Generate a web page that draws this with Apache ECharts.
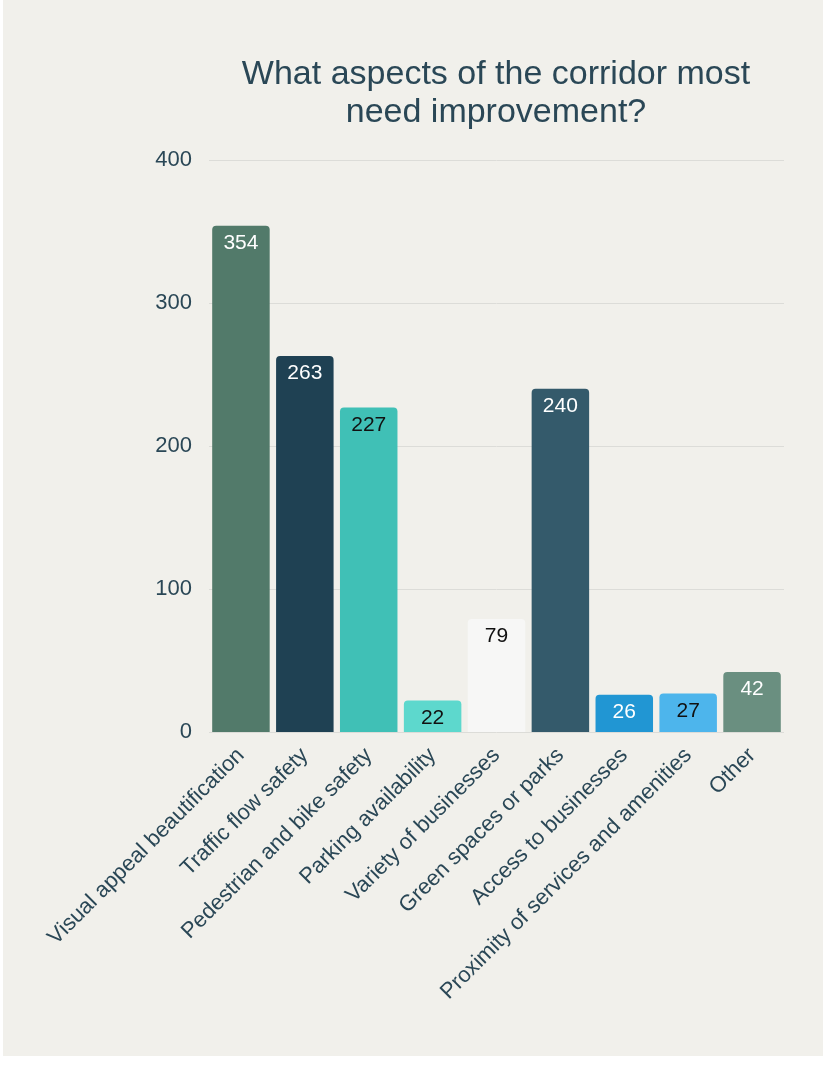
<!DOCTYPE html>
<html>
<head>
<meta charset="utf-8">
<script src="https://cdn.jsdelivr.net/npm/echarts@6/dist/echarts.min.js"></script>
<style>
  html, body { margin: 0; padding: 0; background: #ffffff; }
  #chart { position: absolute; left: 3px; top: 0; width: 820px; height: 1056px; background: #f1f0eb; }
</style>
</head>
<body>
<div id="chart"></div>
<script>
// categories and answers count
const categories = [
  "Visual appeal beautification",
  "Traffic flow safety",
  "Pedestrian and bike safety",
  "Parking availability",
  "Variety of businesses",
  "Green spaces or parks",
  "Access to businesses",
  "Proximity of services and amenities",
  "Other"
];
const counts = [354, 263, 227, 22, 79, 240, 26, 27, 42];
const barColors = ["#527a6a", "#1f4153", "#40c0b6", "#5dd8cd", "#f7f7f6", "#345a6b", "#2196d3", "#4db5ec", "#6a8f80"];
const labelColors = ["#ffffff", "#ffffff", "#111111", "#111111", "#111111", "#ffffff", "#ffffff", "#111111", "#ffffff"];

const textColor = "#2a4756";

let myChart = echarts.init(document.getElementById("chart"));

myChart.setOption({
  title: {
    text: "What aspects of the corridor most\nneed improvement?",
    left: 488,
    top: 51,
    textAlign: "center",
    textStyle: {
      fontFamily: "Liberation Sans",
      fontWeight: "normal",
      fontSize: 34,
      lineHeight: 38,
      color: textColor
    }
  },
  grid: {
    left: 206,
    right: 39,
    top: 160,
    bottom: 324,
    containLabel: false
  },
  xAxis: {
    type: "category",
    data: categories,
    axisLine: { show: false },
    axisTick: { show: false },
    axisLabel: {
      rotate: 45,
      interval: 0,
      margin: 20,
      fontFamily: "Liberation Sans",
      fontSize: 22,
      color: textColor
    }
  },
  yAxis: {
    type: "value",
    min: 0,
    max: 400,
    interval: 100,
    axisLine: { show: false },
    axisTick: { show: false },
    axisLabel: {
      margin: 17,
      fontFamily: "Liberation Sans",
      fontSize: 22,
      color: textColor
    },
    splitLine: {
      lineStyle: { color: "#dcdcd8", width: 1 }
    }
  },
  series: [
    {
      type: "bar",
      barCategoryGap: "10%",
      data: counts.map(function(v, i) {
        return {
          value: v,
          itemStyle: { color: barColors[i], borderRadius: [4, 4, 0, 0] },
          label: { color: labelColors[i] }
        };
      }),
      label: {
        show: true,
        position: "insideTop",
        distance: 7,
        fontFamily: "Liberation Sans",
        fontSize: 21
      }
    }
  ]
});
</script>
</body>
</html>
